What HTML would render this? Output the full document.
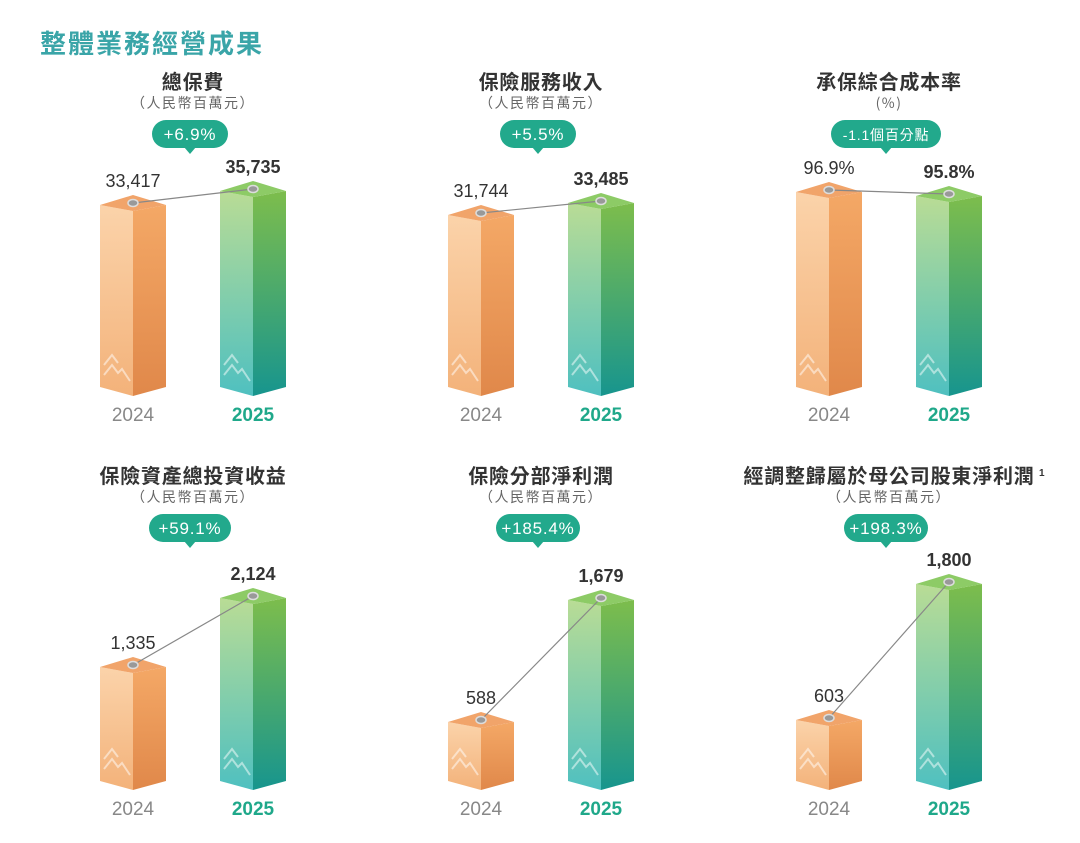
<!DOCTYPE html>
<html><head><meta charset="utf-8">
<style>
html,body{margin:0;padding:0;background:#fff;}
body{width:1080px;height:838px;overflow:hidden;font-family:"Liberation Sans","Noto Sans CJK TC",sans-serif;}
</style></head>
<body>
<svg id="s" width="1080" height="838" xmlns="http://www.w3.org/2000/svg">
<defs>
<linearGradient id="oL" x1="0" y1="0" x2="0" y2="1"><stop offset="0" stop-color="#fbd3aa"/><stop offset="1" stop-color="#f3b27a"/></linearGradient>
<linearGradient id="oR" x1="0" y1="0" x2="0" y2="1"><stop offset="0" stop-color="#f4a866"/><stop offset="1" stop-color="#e0884a"/></linearGradient>
<linearGradient id="gL" x1="0" y1="0" x2="0" y2="1"><stop offset="0" stop-color="#b9dc95"/><stop offset="1" stop-color="#4fc0c0"/></linearGradient>
<linearGradient id="gR" x1="0" y1="0" x2="0" y2="1"><stop offset="0" stop-color="#7dbd4c"/><stop offset="1" stop-color="#17958e"/></linearGradient>
</defs>
<text x="40" y="53" font-size="26" font-weight="bold" fill="#3aa5a8" font-family="'Noto Sans CJK TC',sans-serif" letter-spacing="2">整體業務經營成果</text>
</svg>
<script>
var s=document.getElementById('s');
var h='';
var P=[
 {t:'總保費',u:'（人民幣百萬元）',b:'+6.9%',v:['33,417','35,735'],a:[195,181],bw:76},
 {t:'保險服務收入',u:'（人民幣百萬元）',b:'+5.5%',v:['31,744','33,485'],a:[205,193],bw:76},
 {t:'承保綜合成本率',u:'(%)',b:'-1.1個百分點',v:['96.9%','95.8%'],a:[182,186],bw:110},
 {t:'保險資產總投資收益',u:'（人民幣百萬元）',b:'+59.1%',v:['1,335','2,124'],a:[657,588],bw:82},
 {t:'保險分部淨利潤',u:'（人民幣百萬元）',b:'+185.4%',v:['588','1,679'],a:[712,590],bw:84},
 {t:'經調整歸屬於母公司股東淨利潤',u:'（人民幣百萬元）',b:'+198.3%',v:['603','1,800'],a:[710,574],bw:84,sup:true}
];
P.forEach(function(p,i){
 var c=i%3,r=Math.floor(i/3);
 var ox=c*348, oy=r*394;
 var cx=193+ox;
 h+=`<text x="${cx}" y="${89+oy}" text-anchor="middle" font-size="20" font-weight="bold" fill="#333" letter-spacing="0.8" font-family="'Noto Sans CJK TC',sans-serif">${p.t}</text>`;
 h+=`<text x="${cx}" y="${108+oy}" text-anchor="middle" font-size="14" fill="#666" letter-spacing="1.5" font-family="'Noto Sans CJK TC',sans-serif">${p.u}</text>`;
 var bx=cx-3, by=120+oy;
 h+=`<rect x="${bx-p.bw/2}" y="${by}" width="${p.bw}" height="28" rx="14" fill="#22a98c"/>`;
 h+=`<path d="M${bx-6} ${by+27} L${bx} ${by+34} L${bx+6} ${by+27}Z" fill="#22a98c"/>`;
 h+=`<text x="${bx}" y="${by+20}" text-anchor="middle" font-size="${p.b.length>7?14:17}" letter-spacing="0.8" fill="#fff" font-family="'Liberation Sans','Noto Sans CJK TC',sans-serif">${p.b}</text>`;
 var bot=387+oy;
 var mk=[];
 [0,1].forEach(function(k){
  var x0=100+ox+k*120, xm=x0+33, x1=x0+66, a=p.a[k];
  var L=k?'gL':'oL', R=k?'gR':'oR', T=k?'#8dcb66':'#f1a46a';
  h+=`<path d="M${x0} ${a+10} L${xm} ${a+16} L${xm} ${bot+9} L${x0} ${bot}Z" fill="url(#${L})"/>`;
  h+=`<path d="M${xm} ${a+16} L${x1} ${a+10} L${x1} ${bot} L${xm} ${bot+9}Z" fill="url(#${R})"/>`;
  h+=`<path d="M${x0} ${a+10} L${xm} ${a} L${x1} ${a+10} L${xm} ${a+16}Z" fill="${T}"/>`;
  h+=`<polyline points="${x0+4},${bot-22} ${x0+12},${bot-32} ${x0+18},${bot-24}" fill="none" stroke="#fff" stroke-opacity="0.5" stroke-width="2"/>`;
  h+=`<polyline points="${x0+4},${bot-12} ${x0+12},${bot-22} ${x0+18},${bot-14} ${x0+22},${bot-18} ${x0+30},${bot-6}" fill="none" stroke="#fff" stroke-opacity="0.5" stroke-width="2"/>`;
  mk.push([xm,a+8]);
  h+=`<text x="${xm}" y="${a-8}" text-anchor="middle" font-size="18" ${k?'font-weight="bold"':''} fill="#333">${p.v[k]}</text>`;
  h+=`<text x="${xm}" y="${421+oy}" text-anchor="middle" font-size="19" ${k?'font-weight="bold" fill="#1fa88a"':'fill="#888"'}>${k?'2025':'2024'}</text>`;
 });
 h+=`<line x1="${mk[0][0]}" y1="${mk[0][1]}" x2="${mk[1][0]}" y2="${mk[1][1]}" stroke="#888" stroke-width="1.2"/>`;
 mk.forEach(function(m){h+=`<ellipse cx="${m[0]}" cy="${m[1]}" rx="5" ry="3.5" fill="#999" stroke="#ddd" stroke-width="1.5"/>`;});
 if(p.sup) h+=`<text x="${cx+846-696}" y="${82+oy}" font-size="10" font-weight="bold" fill="#333">1</text>`;
});
s.insertAdjacentHTML('beforeend',h);
</script>
</body></html>
